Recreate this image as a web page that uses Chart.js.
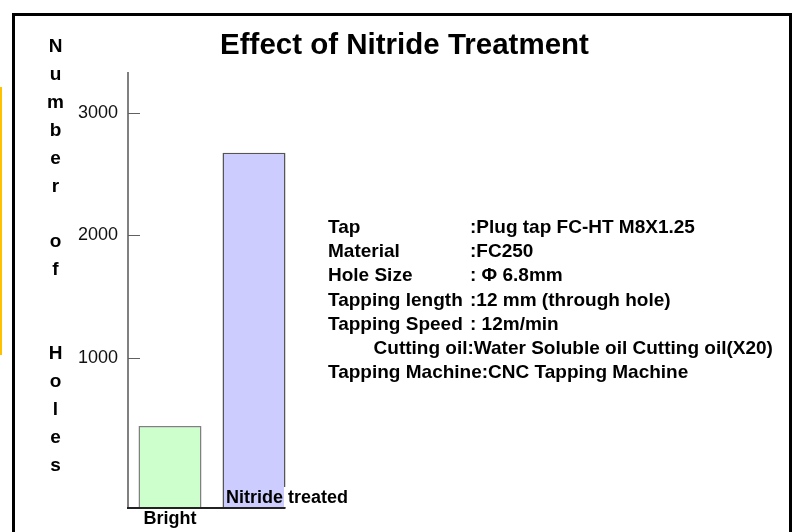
<!DOCTYPE html>
<html>
<head>
<meta charset="utf-8">
<script src="https://cdn.jsdelivr.net/npm/chart.js@4/dist/chart.umd.min.js"></script>
<style>
  html, body { margin: 0; padding: 0; background: #fff; overflow: hidden; width: 793px; height: 532px; }
  #frame { position: absolute; left: 12px; top: 13px; width: 774px; height: 600px; border: 3px solid #000; box-sizing: content-box; }
  #mark { position: absolute; left: 0; top: 87px; width: 2px; height: 268px; background: #ffc000; }
  #wrap { position: absolute; left: 0; top: 0; width: 793px; height: 532px; }
</style>
</head>
<body>
<div id="frame"></div>
<div id="mark"></div>
<div id="wrap"><canvas id="c" width="793" height="532"></canvas></div>
<script>
// ---- data ----
const categories = ["Bright", "Nitride treated"];
const holes = [445, 2675];
const yTicks = [1000, 2000, 3000];
const barColors = ["#ccffcc", "#ccccff"];
const titleText = "Effect of Nitride Treatment";
const yTitle = "Number of  Holes";
const specLabels = ["Tap", "Material", "Hole Size", "Tapping length", "Tapping Speed", "Cutting oil", "Tapping Machine"];
const specValues = [":Plug tap FC-HT M8X1.25", ":FC250", ": \u03A6 6.8mm", ":12 mm (through hole)", ": 12m/min", ":Water Soluble oil Cutting oil(X20)", ":CNC Tapping Machine"];

const FONT = '"Liberation Sans", Arial, sans-serif';

const drawExtras = {
  id: 'drawExtras',
  afterDraw(chart) {
    const ctx = chart.ctx;
    const area = chart.chartArea;
    const ys = chart.scales.y;
    const meta = chart.getDatasetMeta(0);
    ctx.save();

    // inward tick marks
    ctx.strokeStyle = '#606060';
    ctx.lineWidth = 1;
    ys.ticks.forEach(t => {
      const py = Math.round(ys.getPixelForValue(t.value)) + 0.5;
      ctx.beginPath();
      ctx.moveTo(area.left, py);
      ctx.lineTo(area.left + 12, py);
      ctx.stroke();
    });

    // x axis line up to last bar's right edge
    const lastBar = meta.data[meta.data.length - 1];
    const xEnd = lastBar.x + lastBar.width / 2;
    ctx.strokeStyle = '#222';
    ctx.lineWidth = 2;
    ctx.beginPath();
    ctx.moveTo(area.left - 1, area.bottom);
    ctx.lineTo(xEnd, area.bottom);
    ctx.stroke();

    // title
    ctx.fillStyle = '#000';
    ctx.font = 'bold 29.5px ' + FONT;
    ctx.textAlign = 'center';
    ctx.textBaseline = 'alphabetic';
    ctx.fillText(titleText, 404.5, 53.5);

    // stacked y title
    ctx.font = 'bold 19px ' + FONT;
    [...yTitle].forEach((ch, i) => {
      if (ch !== ' ') ctx.fillText(ch, 55.5, 52 + i * 27.9);
    });

    // category labels
    ctx.font = 'bold 18px ' + FONT;
    const b0 = meta.data[0];
    ctx.textAlign = 'center';
    ctx.fillText(categories[0], b0.x, 524);
    const b1 = meta.data[1];
    const lx = b1.x - b1.width / 2 + 3.5;
    const tw = ctx.measureText(categories[1]).width;
    ctx.fillStyle = '#fff';
    ctx.fillRect(xEnd - 1.5, 487, lx + tw - xEnd + 4, area.bottom - 488);
    ctx.fillStyle = '#000';
    ctx.textAlign = 'left';
    ctx.fillText(categories[1], lx, 503);

    // specification block
    ctx.font = 'bold 19px ' + FONT;
    specLabels.forEach((lab, i) => {
      const by = 232.7 + i * 24.27;
      if (i < 5) {
        ctx.textAlign = 'left';
        ctx.fillText(lab, 328, by);
        ctx.fillText(specValues[i], 470, by);
      } else if (i === 5) {
        ctx.textAlign = 'right';
        ctx.fillText(lab, 467.5, by);
        ctx.textAlign = 'left';
        ctx.fillText(specValues[i], 467.5, by);
      } else {
        ctx.textAlign = 'left';
        ctx.fillText(lab + specValues[i], 328, by);
      }
    });
    ctx.restore();
  }
};

new Chart(document.getElementById('c'), {
  type: 'bar',
  data: {
    labels: categories,
    datasets: [{
      data: holes,
      base: -225,
      backgroundColor: barColors,
      borderColor: ['#808080', '#555'],
      borderWidth: 1.5,
      borderSkipped: 'start',
      categoryPercentage: 1,
      barPercentage: 0.75
    }]
  },
  options: {
    responsive: false,
    animation: false,
    layout: { padding: { left: 0, right: 497, top: 73, bottom: 24 } },
    plugins: { legend: { display: false }, tooltip: { enabled: false }, title: { display: false } },
    scales: {
      x: {
        offset: true,
        grid: { display: false, drawTicks: false },
        border: { display: false },
        ticks: { display: false },
        afterFit(s) { s.height = 0; }
      },
      y: {
        min: -225,
        max: 3325,
        grid: { display: false, drawTicks: false },
        border: { display: true, color: '#808080', width: 2 },
        ticks: { color: '#111', padding: 10, font: { family: FONT, size: 18 }, callback: v => String(v) },
        afterBuildTicks(s) { s.ticks = yTicks.map(v => ({ value: v })); },
        afterFit(s) { s.width = 128; }
      }
    }
  },
  plugins: [drawExtras]
});
</script>
</body>
</html>
